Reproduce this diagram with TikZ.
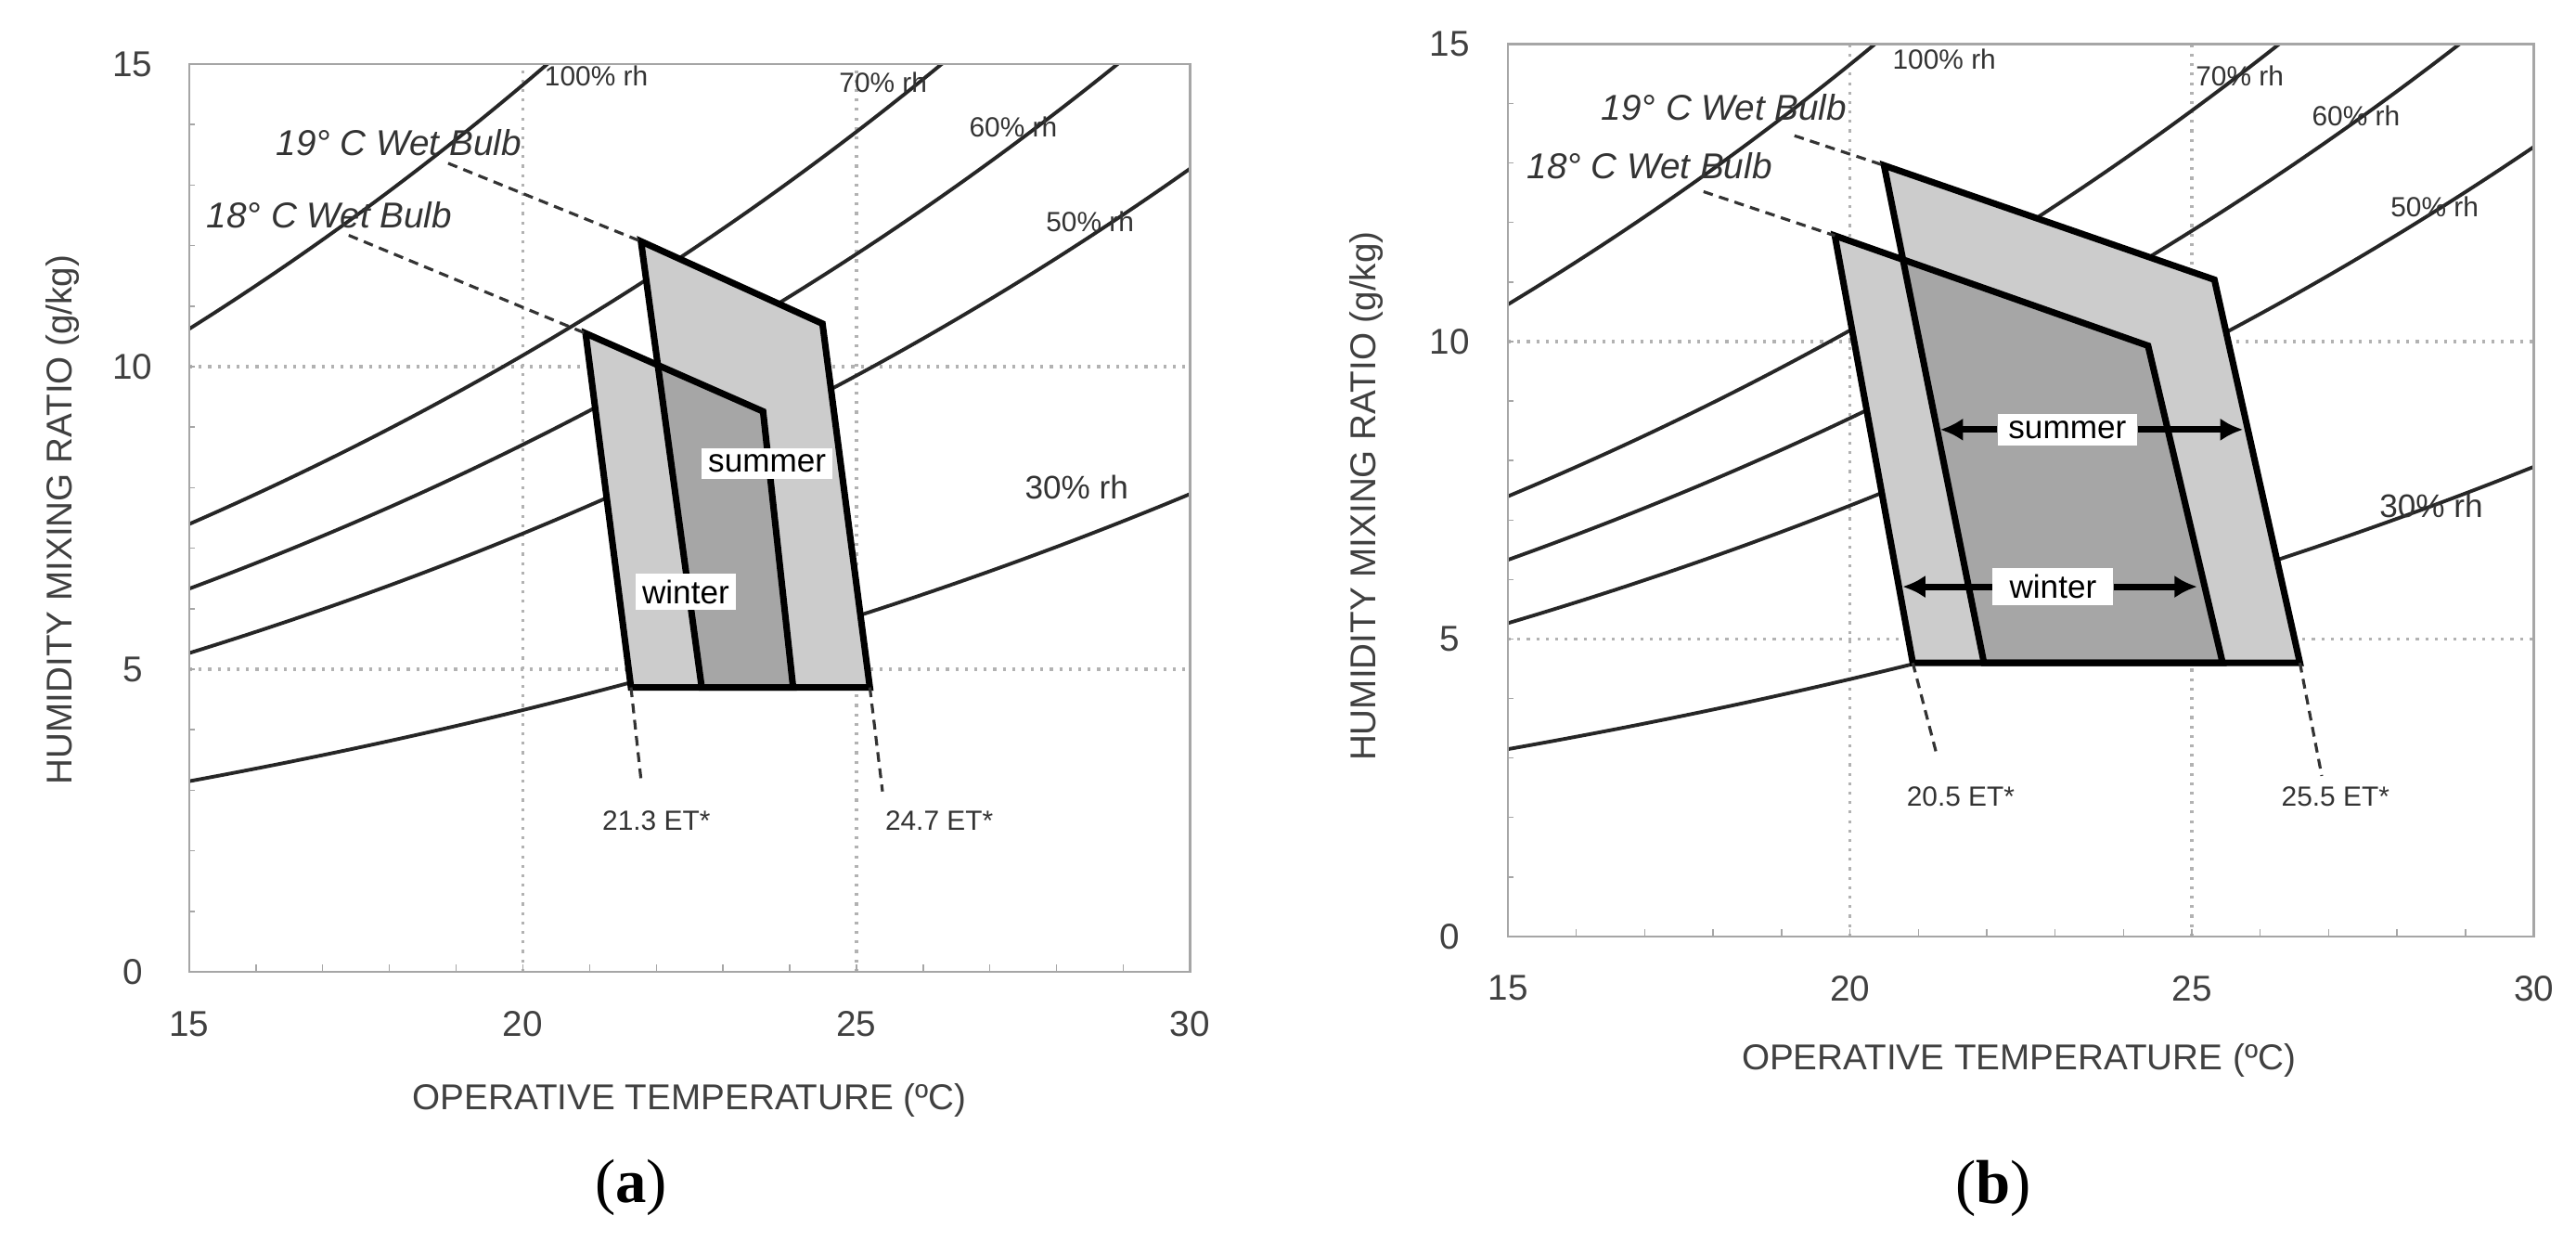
\documentclass[tikz,border=0pt]{standalone}
\usepackage{fontspec}
\setmainfont{Liberation Sans}
\newfontfamily\capfont{Liberation Serif}
\usetikzlibrary{arrows.meta}
\tikzset{
 declare function={pw(\t)=0.6112*exp(17.62*\t/(243.12+\t)); hr(\t,\r)=622*\r*pw(\t)/(101.325-\r*pw(\t));},
 frame/.style={draw=gray!70,line width=0.8pt},
 gridl/.style={draw=gray!60,dotted,line width=0.9pt},
 rh/.style={draw=black!85,line width=1.1pt},
 zone/.style={draw=black,line width=2pt,line join=miter},
 wb/.style={draw=black!80,densely dashed,line width=0.9pt},
 ticklbl/.style={font=\fontsize{11}{12}\selectfont,text=black!75},
 ttl/.style={font=\fontsize{11}{12}\selectfont,text=black!75},
 rhl/.style={font=\fontsize{8.5}{10}\selectfont,text=black!80},
 wbl/.style={font=\fontsize{11}{12}\selectfont\itshape,text=black!80},
 lbox/.style={fill=white,inner sep=2pt,font=\fontsize{10}{12}\selectfont},
 arr/.style={draw=black,line width=2pt,-{Latex[length=7pt,width=7pt]}},
 figcap/.style={font=\capfont\fontsize{19}{22}\selectfont}
}
\begin{document}
\begin{tikzpicture}
\useasboundingbox (0,0) rectangle (27.76,13.36);
\fill[white] (0,0) rectangle (27.76,13.36);
% ---------- panel (a)
\begin{scope}[shift={(2.04,2.89)},x=0.719cm,y=0.652cm,xshift=-10.785cm]
 \draw[gridl] (20,0)--(20,15) (25,0)--(25,15) (15,5)--(30,5) (15,10)--(30,10);
 \foreach \v in {16,...,29} \draw[gray!70] (\v,0)--(\v,0.12);
 \foreach \v in {1,...,14} \draw[gray!70] (15,\v)--(15.08,\v);
 \begin{scope}
  \clip (15,0) rectangle (30,15);
  \foreach \r in {1,0.7,0.6,0.5,0.3}
   \draw[rh] plot[domain=15:30,samples=40,smooth] (\x,{hr(\x,\r)});
 \end{scope}
 \draw[frame] (15,0) rectangle (30,15);
 \foreach \v in {15,20,25,30} \node[ticklbl] at (\v,-0.86) {\v};
 \foreach \v in {0,5,10,15} \node[ticklbl] at (14.15,\v) {\v};
 \coordinate (aw1) at (20.94,10.55); \coordinate (aw2) at (23.6,9.26);
 \coordinate (aw3) at (24.05,4.7); \coordinate (aw4) at (21.62,4.7);
 \coordinate (as1) at (21.77,12.07); \coordinate (as2) at (24.49,10.71);
 \coordinate (as3) at (25.2,4.7); \coordinate (as4) at (22.68,4.7);
 \fill[gray!40] (aw1)--(aw2)--(aw3)--(aw4)--cycle;
 \fill[gray!40] (as1)--(as2)--(as3)--(as4)--cycle;
 \begin{scope}
  \clip (aw1)--(aw2)--(aw3)--(aw4)--cycle;
  \fill[gray!70] (as1)--(as2)--(as3)--(as4)--cycle;
 \end{scope}
 \draw[zone] (aw1)--(aw2)--(aw3)--(aw4)--cycle;
 \draw[zone] (as1)--(as2)--(as3)--(as4)--cycle;
 \coordinate (a19) at (18.88,13.36); \coordinate (a18) at (17.39,12.17);
 \coordinate (ae1) at (21.77,3.18); \coordinate (ae2) at (25.39,2.98);
 \draw[wb] (a19)--(as1); \draw[wb] (a18)--(aw1);
 \draw[wb] (aw4)--(ae1); \draw[wb] (as3)--(ae2);
 \node[rhl] (a100) at (21.1,14.8) {100\% rh};
 \node[rhl] (a70) at (25.4,14.7) {70\% rh};
 \node[rhl] (a60) at (27.35,13.96) {60\% rh};
 \node[rhl] (a50) at (28.5,12.4) {50\% rh};
 \node[rhl,font=\fontsize{10}{12}\selectfont] (a30) at (28.3,8.0) {30\% rh};
 \node[wbl] (a19l) at (18.14,13.7) {19° C Wet Bulb};
 \node[wbl] (a18l) at (17.1,12.5) {18° C Wet Bulb};
 \node[rhl] (aet1) at (22.0,2.5) {21.3 ET*};
 \node[rhl] (aet2) at (26.24,2.5) {24.7 ET*};
 \node[lbox] (asum) at (23.66,8.4) {summer};
 \node[lbox] (awin) at (22.44,6.28) {winter};
 \node[ttl] (ax) at (22.5,-2.12) {OPERATIVE TEMPERATURE (ºC)};
 \node[ttl,rotate=90] (ay) at (13.1,7.47) {HUMIDITY MIXING RATIO (g/kg)};
 \node[figcap] (ca) at (21.62,-3.57) {(\textbf{a})};
\end{scope}
% ---------- panel (b)
\begin{scope}[shift={(16.25,3.27)},x=0.737cm,y=0.641cm,xshift=-11.055cm]
 \draw[gridl] (20,0)--(20,15) (25,0)--(25,15) (15,5)--(30,5) (15,10)--(30,10);
 \foreach \v in {16,...,29} \draw[gray!70] (\v,0)--(\v,0.12);
 \foreach \v in {1,...,14} \draw[gray!70] (15,\v)--(15.08,\v);
 \begin{scope}
  \clip (15,0) rectangle (30,15);
  \foreach \r in {1,0.7,0.6,0.5,0.3}
   \draw[rh] plot[domain=15:30,samples=40,smooth] (\x,{hr(\x,\r)});
 \end{scope}
 \draw[frame] (15,0) rectangle (30,15);
 \foreach \v in {15,20,25,30} \node[ticklbl] at (\v,-0.87) {\v};
 \foreach \v in {0,5,10,15} \node[ticklbl] at (14.15,\v) {\v};
 \coordinate (bw1) at (19.78,11.78); \coordinate (bw2) at (24.36,9.93);
 \coordinate (bw3) at (25.45,4.6); \coordinate (bw4) at (20.92,4.6);
 \coordinate (bs1) at (20.5,12.96); \coordinate (bs2) at (25.33,11.04);
 \coordinate (bs3) at (26.58,4.6); \coordinate (bs4) at (21.96,4.6);
 \fill[gray!40] (bw1)--(bw2)--(bw3)--(bw4)--cycle;
 \fill[gray!40] (bs1)--(bs2)--(bs3)--(bs4)--cycle;
 \begin{scope}
  \clip (bw1)--(bw2)--(bw3)--(bw4)--cycle;
  \fill[gray!70] (bs1)--(bs2)--(bs3)--(bs4)--cycle;
 \end{scope}
 \draw[zone] (bw1)--(bw2)--(bw3)--(bw4)--cycle;
 \draw[zone] (bs1)--(bs2)--(bs3)--(bs4)--cycle;
 \coordinate (b19) at (19.19,13.46); \coordinate (b18) at (17.86,12.52);
 \coordinate (be1) at (21.26,3.1); \coordinate (be2) at (26.9,2.7);
 \draw[wb] (b19)--(bs1); \draw[wb] (b18)--(bw1);
 \draw[wb] (bw4)--(be1); \draw[wb] (bs3)--(be2);
 \node[rhl] (b100) at (21.38,14.74) {100\% rh};
 \node[rhl] (b70) at (25.7,14.47) {70\% rh};
 \node[rhl] (b60) at (27.4,13.8) {60\% rh};
 \node[rhl] (b50) at (28.55,12.27) {50\% rh};
 \node[rhl,font=\fontsize{10}{12}\selectfont] (b30) at (28.5,7.24) {30\% rh};
 \node[wbl] (b19l) at (18.16,13.93) {19° C Wet Bulb};
 \node[wbl] (b18l) at (17.07,12.95) {18° C Wet Bulb};
 \node[rhl] (bet1) at (21.62,2.36) {20.5 ET*};
 \node[rhl] (bet2) at (27.1,2.36) {25.5 ET*};
 \node[lbox,minimum width=1.5cm] (bsum) at (23.18,8.52) {summer};
 \node[lbox,minimum width=1.3cm] (bwin) at (22.97,5.88) {winter};
 \coordinate (bsl) at (21.32,8.52); \coordinate (bsr) at (25.75,8.52);
 \coordinate (bwl) at (20.77,5.88); \coordinate (bwr) at (25.08,5.88);
 \draw[arr] (bsum.west)--(bsl); \draw[arr] (bsum.east)--(bsr);
 \draw[arr] (bwin.west)--(bwl); \draw[arr] (bwin.east)--(bwr);
 \node[ttl] (bx) at (22.47,-2.09) {OPERATIVE TEMPERATURE (ºC)};
 \node[ttl,rotate=90] (by) at (12.93,7.4) {HUMIDITY MIXING RATIO (g/kg)};
 \node[figcap] (cb) at (22.1,-4.24) {(\textbf{b})};
\end{scope}
\end{tikzpicture}
\end{document}
